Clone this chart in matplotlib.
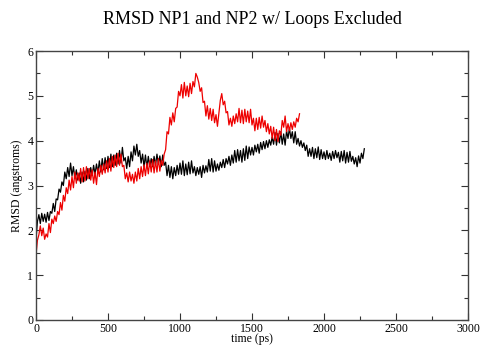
import matplotlib
matplotlib.use("Agg")
import matplotlib.pyplot as plt
from matplotlib.ticker import MultipleLocator

plt.rcParams['font.family'] = ['Liberation Serif', 'DejaVu Serif']

title = "RMSD NP1 and NP2 w/ Loops Excluded"
xlabel = "time (ps)"
ylabel = "RMSD (angstroms)"
step_ps = 10

np1_rmsd = [
    1.8, 2.2, 2.35, 2.15, 2.38, 2.2, 2.36, 2.18, 2.4, 2.22,
    2.42, 2.38, 2.6, 2.42, 2.7, 2.68, 2.92, 2.85, 3.08, 3.0,
    3.3, 3.15, 3.4, 3.2, 3.5, 3.22, 3.42, 3.15, 3.35, 3.12,
    3.28, 3.05, 3.3, 3.08, 3.32, 3.12, 3.38, 3.15, 3.4, 3.22,
    3.45, 3.25, 3.48, 3.28, 3.55, 3.3, 3.6, 3.35, 3.62, 3.38,
    3.65, 3.4, 3.7, 3.42, 3.68, 3.45, 3.72, 3.48, 3.78, 3.5,
    3.85, 3.55, 3.62, 3.38, 3.65, 3.42, 3.75, 3.55, 3.88, 3.68,
    3.92, 3.65, 3.78, 3.5, 3.7, 3.42, 3.68, 3.4, 3.65, 3.42,
    3.6, 3.42, 3.65, 3.45, 3.7, 3.48, 3.66, 3.42, 3.68, 3.45,
    3.52, 3.22, 3.45, 3.18, 3.42, 3.15, 3.4, 3.22, 3.45, 3.25,
    3.5, 3.25, 3.55, 3.22, 3.48, 3.24, 3.52, 3.26, 3.55, 3.28,
    3.42, 3.22, 3.4, 3.25, 3.42, 3.18, 3.45, 3.28, 3.44, 3.3,
    3.58, 3.32, 3.6, 3.3, 3.55, 3.32, 3.48, 3.34, 3.52, 3.4,
    3.58, 3.4, 3.6, 3.48, 3.65, 3.45, 3.68, 3.5, 3.78, 3.52,
    3.8, 3.55, 3.78, 3.52, 3.82, 3.56, 3.88, 3.6, 3.86, 3.68,
    3.85, 3.68, 3.9, 3.75, 3.92, 3.72, 3.96, 3.8, 3.98, 3.82,
    4.0, 3.85, 4.02, 3.9, 4.08, 3.92, 4.18, 3.9, 4.16, 3.95,
    4.2, 3.92, 4.15, 3.9, 4.22, 4.05, 4.28, 4.05, 4.2, 3.95,
    4.2, 3.92, 4.05, 3.88, 4.0, 3.85, 3.95, 3.78, 3.9, 3.65,
    3.82, 3.65, 3.85, 3.6, 3.82, 3.62, 3.86, 3.58, 3.8, 3.6,
    3.75, 3.58, 3.78, 3.6, 3.72, 3.56, 3.76, 3.6, 3.78, 3.62,
    3.74, 3.52, 3.76, 3.55, 3.78, 3.5, 3.74, 3.52, 3.76, 3.54,
    3.65, 3.48, 3.62, 3.42, 3.66, 3.5, 3.72, 3.6, 3.82,
]

np2_rmsd = [
    1.45, 1.78, 1.9, 2.1, 1.88, 2.05, 1.8, 1.92, 1.85, 2.15,
    1.95, 2.25, 2.15, 2.32, 2.2, 2.42, 2.35, 2.62, 2.45, 2.78,
    2.65, 2.95, 2.82, 3.12, 2.9, 3.2, 2.95, 3.3, 3.05, 3.28,
    3.1, 3.38, 3.08, 3.4, 3.1, 3.42, 3.15, 3.38, 3.12, 3.35,
    3.05, 3.3, 3.02, 3.38, 3.2, 3.45, 3.25, 3.48, 3.28, 3.55,
    3.3, 3.6, 3.32, 3.65, 3.4, 3.68, 3.42, 3.72, 3.45, 3.7,
    3.42, 3.45, 3.15, 3.28, 3.08, 3.3, 3.1, 3.25, 3.05, 3.3,
    3.1, 3.38, 3.15, 3.42, 3.2, 3.46, 3.22, 3.5, 3.26, 3.55,
    3.3, 3.58, 3.28, 3.55, 3.3, 3.6, 3.32, 3.56, 3.45, 3.7,
    3.8, 4.2, 4.15, 4.52, 4.35, 4.62, 4.42, 4.72, 4.75, 5.1,
    5.0, 5.25, 4.95, 5.3, 5.0, 5.22, 4.98, 5.28, 5.05, 5.32,
    5.2, 5.5, 5.42, 5.3, 5.1, 5.18, 4.85, 4.88, 4.55, 4.78,
    4.48, 4.72, 4.45, 4.7, 4.4, 4.58, 4.32, 4.6, 4.9, 5.05,
    4.8, 4.88, 4.62, 4.65, 4.35, 4.5, 4.32, 4.55, 4.38, 4.6,
    4.42, 4.72, 4.4, 4.68, 4.38, 4.7, 4.42, 4.66, 4.4, 4.7,
    4.35, 4.5, 4.22, 4.5, 4.25, 4.52, 4.28, 4.55, 4.3, 4.45,
    4.2, 4.38, 4.15, 4.32, 4.05, 4.3, 4.0, 4.25, 3.98, 4.22,
    4.12, 4.45, 4.3, 4.55, 4.2, 4.38, 4.22, 4.4, 4.25, 4.42,
    4.3, 4.5, 4.42, 4.6,
]

np1_time = [i * step_ps for i in range(len(np1_rmsd))]
np2_time = [i * step_ps for i in range(len(np2_rmsd))]

x_ticks = [0, 500, 1000, 1500, 2000, 2500, 3000]
y_ticks = [0, 1, 2, 3, 4, 5, 6]

fig = plt.figure(figsize=(4.81, 3.45), dpi=100)
ax = fig.add_axes([36/481, 25/345, (468-36)/481, (320-51)/345])

ax.plot(np1_time, np1_rmsd, color='black', lw=0.9)
ax.plot(np2_time, np2_rmsd, color='#ee0000', lw=0.9)

ax.set_xlim(0, 3000)
ax.set_ylim(0, 6)
ax.set_xticks(x_ticks)
ax.set_yticks(y_ticks)
ax.xaxis.set_minor_locator(MultipleLocator(250))
ax.yaxis.set_minor_locator(MultipleLocator(0.5))
ax.tick_params(which='both', direction='in', top=True, right=True,
               labelsize=8.5, color='#333333', pad=2)
ax.tick_params(which='major', length=5, width=0.8)
ax.tick_params(which='minor', length=3, width=0.8)
for s in ax.spines.values():
    s.set_linewidth(1.0)
    s.set_color('#444444')

ax.set_xlabel(xlabel, fontsize=8.5, labelpad=-1)
ax.set_ylabel(ylabel, fontsize=8.5, labelpad=3)
fig.text(252/481, 1 - 20/345, title, ha='center', va='center', fontsize=13)

fig.savefig("out.png", dpi=100)
